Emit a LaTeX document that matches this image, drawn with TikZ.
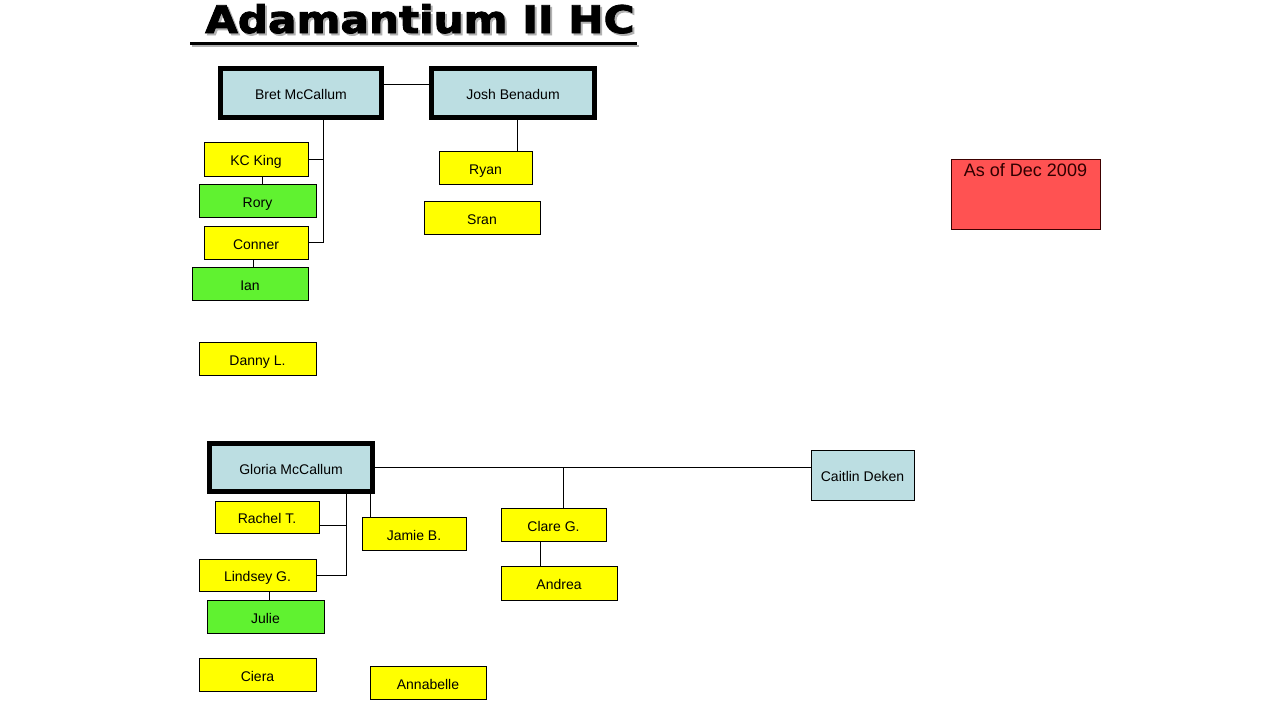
\documentclass[tikz,border=0pt]{standalone}
\usepackage{fontspec}
\setmainfont{Liberation Sans}
\newfontfamily\titlefont[FakeBold=2.2]{DejaVu Sans Bold}
\definecolor{lblue}{RGB}{188,222,226}
\definecolor{ylw}{RGB}{255,255,0}
\definecolor{grn}{RGB}{96,242,48}
\definecolor{rednote}{RGB}{255,82,82}
\definecolor{darkred}{RGB}{60,0,0}
\tikzset{
  base/.style={draw=black, rectangle, inner sep=0pt, outer sep=0pt, text height=13pt, text depth=0pt, font=\fontsize{14}{16}\selectfont, text=black},
  lead/.style={base, fill=lblue, line width=5pt},
  lead2/.style={base, fill=lblue, line width=1pt},
  ybox/.style={base, fill=ylw, line width=0.9pt},
  gbox/.style={base, fill=grn, line width=0.9pt},
  conn/.style={draw=black, line width=0.9pt},
  titletext/.style={anchor=base west, inner sep=0pt, font=\titlefont\fontsize{38}{40}\selectfont},
}
\begin{document}
\begin{tikzpicture}[x=1pt,y=-1pt]
\useasboundingbox (0,0) rectangle (1280,720);
\fill[white] (0,0) rectangle (1280,720);
% title
\draw[gray!60, line width=2.5pt] (192,46) -- (639,46);
\node[titletext, text=gray!60] (titleshadow) at (207,35) {\scalebox{1.11}[1]{Adamantium II HC}};
\node[titletext, text=black] (title) at (205,33) {\scalebox{1.11}[1]{Adamantium II HC}};
\draw[black, line width=2.5pt] (190,43.5) -- (637,43.5);

% top group
\node[lead, minimum width=161pt, minimum height=49pt] (bret) at (301,93) {Bret McCallum};
\node[lead, minimum width=163pt, minimum height=49pt] (josh) at (513,93) {Josh Benadum};
\node[ybox, minimum width=104pt, minimum height=34pt] (kc) at (256,159) {KC King};
\node[gbox, minimum width=117pt, minimum height=33pt] (rory) at (257.5,200.5) {Rory};
\node[ybox, minimum width=104pt, minimum height=33pt] (conner) at (256,242.5) {Conner};
\node[gbox, minimum width=116pt, minimum height=33pt] (ian) at (250,283.5) {Ian};
\node[ybox, minimum width=93pt, minimum height=33pt] (ryan) at (485.5,167.5) {Ryan};
\node[ybox, minimum width=116pt, minimum height=33pt] (sran) at (482,217.5) {Sran};
\node[ybox, minimum width=117pt, minimum height=33pt] (danny) at (257.5,358.5) {Danny L.};
\node[base, fill=rednote, draw=darkred, line width=1pt, minimum width=149pt, minimum height=70pt,
  label={[anchor=north, inner sep=0pt, yshift=-4pt, text=darkred!80!black, font=\fontsize{18}{20}\selectfont]north:As of Dec 2009}] (note) at (1025.5,194) {};

\draw[conn] ([yshift=9pt]bret.east) -- ([yshift=9pt]bret.east -| josh.west);
\draw[conn] ([xshift=22pt]bret.south) |- (kc.east);
\draw[conn] ([xshift=22pt]bret.south) |- (conner.east);
\draw[conn] ([xshift=6pt]kc.south) -- ([xshift=6pt]kc.south |- rory.north);
\draw[conn] ([xshift=-3pt]conner.south) -- ([xshift=-3pt]conner.south |- ian.north);
\draw[conn] ([xshift=4pt]josh.south) -- ([xshift=4pt]josh.south |- ryan.north);

% bottom group
\node[lead, minimum width=163pt, minimum height=48pt] (gloria) at (291,467.5) {Gloria McCallum};
\node[lead2, minimum width=103pt, minimum height=50pt] (caitlin) at (862.5,475) {Caitlin Deken};
\node[ybox, minimum width=105pt, minimum height=33pt] (clare) at (553.5,524.5) {Clare G.};
\node[ybox, minimum width=116pt, minimum height=34pt] (andrea) at (559,583) {Andrea};
\node[ybox, minimum width=104pt, minimum height=32pt] (rachel) at (267,517) {Rachel T.};
\node[ybox, minimum width=104pt, minimum height=33pt] (jamie) at (414,533.5) {Jamie B.};
\node[ybox, minimum width=117pt, minimum height=32pt] (lindsey) at (257.5,575) {Lindsey G.};
\node[gbox, minimum width=117pt, minimum height=33pt] (julie) at (265.5,616.5) {Julie};
\node[ybox, minimum width=117pt, minimum height=33pt] (ciera) at (257.5,674.5) {Ciera};
\node[ybox, minimum width=116pt, minimum height=33pt] (annabelle) at (428,682.5) {Annabelle};

\draw[conn] (gloria.east) -- (gloria.east -| caitlin.west);
\draw[conn] ([xshift=9.5pt]clare.north) -- ([xshift=9.5pt]clare.north |- gloria.east);
\draw[conn] ([xshift=-13.5pt]clare.south) -- ([xshift=-13.5pt]clare.south |- andrea.north);
\draw[conn] ([xshift=55pt]gloria.south) |- ([yshift=-8pt]rachel.east);
\draw[conn] ([xshift=55pt]gloria.south) |- (lindsey.east);
\draw[conn] ([xshift=79pt]gloria.south) -- ([xshift=79pt]gloria.south |- jamie.north);
\draw[conn] ([xshift=11.5pt]lindsey.south) -- ([xshift=11.5pt]lindsey.south |- julie.north);
\end{tikzpicture}
\end{document}
